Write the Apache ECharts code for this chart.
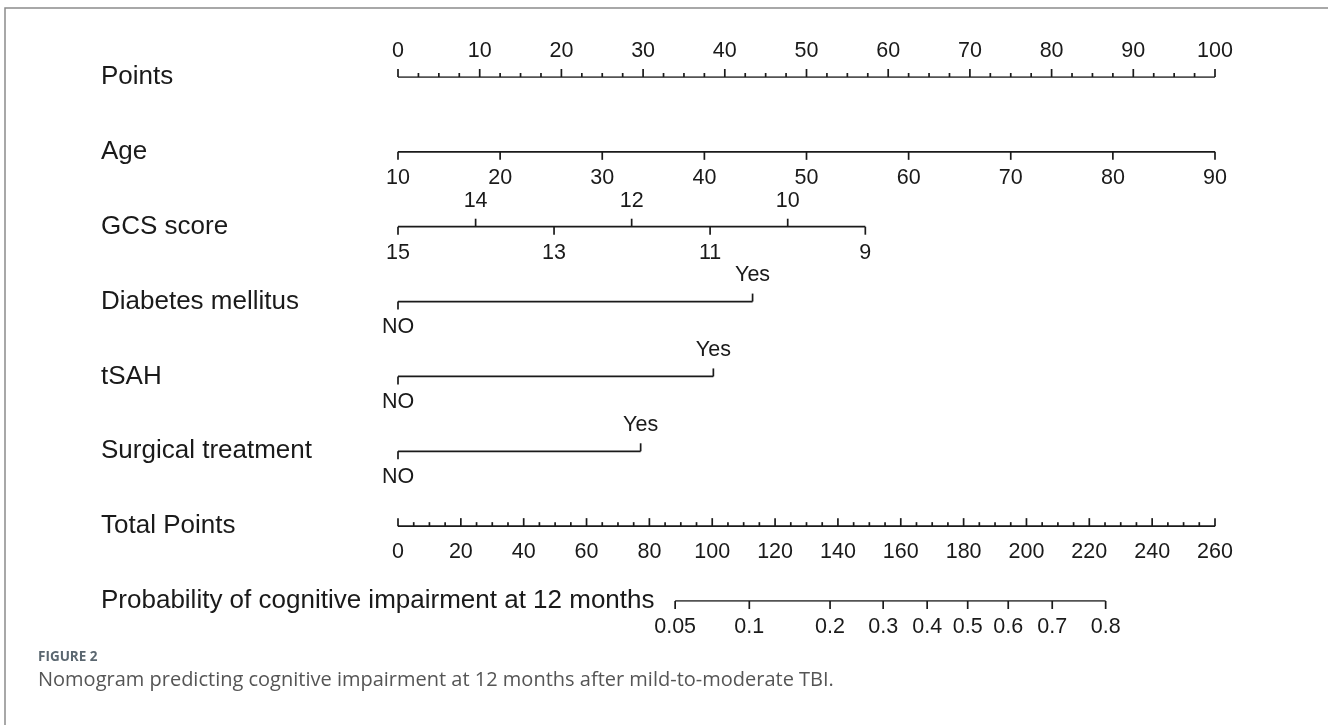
<!DOCTYPE html>
<html>
<head>
<meta charset="utf-8">
<title>Nomogram</title>
<script src="https://cdn.jsdelivr.net/npm/echarts@6/dist/echarts.min.js"></script>
<style>
  html, body { margin: 0; padding: 0; background: #ffffff; }
  #chart { width: 1328px; height: 725px; }
</style>
</head>
<body>
<div id="chart"></div>
<script>
// Row titles, top to bottom
const rowNames = [
  'Points',
  'Age',
  'GCS score',
  'Diabetes mellitus',
  'tSAH',
  'Surgical treatment',
  'Total Points',
  'Probability of cognitive impairment at 12 months'
];

// Points scale (0-100)
const pointsTicks = [0, 10, 20, 30, 40, 50, 60, 70, 80, 90, 100];

// Age: predictor values and their points
const ageTicks = [10, 20, 30, 40, 50, 60, 70, 80, 90];
const agePoints = [0, 12.5, 25, 37.5, 50, 62.5, 75, 87.5, 100];

// GCS score: predictor values and their points
const gcsTicks = [15, 14, 13, 12, 11, 10, 9];
const gcsPoints = [0, 9.5, 19.1, 28.6, 38.2, 47.7, 57.2];

// Binary predictors
const binaryLevels = ['NO', 'Yes'];
const diabetesPoints = [0, 43.4];
const tsahPoints = [0, 38.6];
const surgeryPoints = [0, 29.7];

// Total points scale
const totalTicks = [0, 20, 40, 60, 80, 100, 120, 140, 160, 180, 200, 220, 240, 260];
const totalMax = 260;

// Predicted probability and the total points where each is reached
const probTicks = ['0.05', '0.1', '0.2', '0.3', '0.4', '0.5', '0.6', '0.7', '0.8'];
const probTotalPoints = [88.2, 111.8, 137.5, 154.4, 168.4, 181.3, 194.2, 208.2, 225.2];

const INK = '#1a1a1a';
const FONT = '"Liberation Sans", Arial, Helvetica, sans-serif';
const LABEL_GAP = 26;
const TICK_FONT = 21.5;
const ROW_FONT = 26;

// Build tick specs for each row (x in points units)
function tk(x, label, tick, side, len) {
  return { x: x, label: label, tick: tick, side: side, len: len };
}

const rows = [];

// Points: major every 10, minor every 2.5, ticks and labels above
(function () {
  const t = [];
  pointsTicks.forEach(v => t.push(tk(v, String(v), 'up', 'up', 8)));
  for (let v = 2.5; v < 100; v += 2.5) {
    if (v % 10 !== 0) t.push(tk(v, '', 'up', 'up', 4));
  }
  rows.push({ row: 0, min: 0, max: 100, ticks: t });
})();

// Age
rows.push({
  row: 1, min: agePoints[0], max: agePoints[agePoints.length - 1],
  ticks: ageTicks.map((v, i) => tk(agePoints[i], String(v), 'down', 'down', 8))
});

// GCS: alternating sides
rows.push({
  row: 2, min: gcsPoints[0], max: gcsPoints[gcsPoints.length - 1],
  ticks: gcsTicks.map((v, i) => {
    const s = i % 2 === 0 ? 'down' : 'up';
    return tk(gcsPoints[i], String(v), s, s, 8);
  })
});

// Binary predictors: NO below, Yes above
[diabetesPoints, tsahPoints, surgeryPoints].forEach((pts, k) => {
  rows.push({
    row: 3 + k, min: pts[0], max: pts[1],
    ticks: binaryLevels.map((lv, i) => {
      const s = i === 0 ? 'down' : 'up';
      return tk(pts[i], lv, s, s, 8);
    })
  });
});

// Total points: ticks up, labels below, minor every 5
(function () {
  const t = [];
  const toPts = v => v * 100 / totalMax;
  totalTicks.forEach(v => t.push(tk(toPts(v), String(v), 'up', 'down', 8)));
  for (let v = 5; v < totalMax; v += 5) {
    if (v % 20 !== 0) t.push(tk(toPts(v), '', 'up', 'down', 4));
  }
  rows.push({ row: 6, min: 0, max: 100, ticks: t });
})();

// Probability
(function () {
  const toPts = v => v * 100 / totalMax;
  const t = probTicks.map((lab, i) => tk(toPts(probTotalPoints[i]), lab, 'down', 'down', 8));
  rows.push({ row: 7, min: t[0].x, max: t[t.length - 1].x, ticks: t });
})();

const series = [];
rows.forEach(r => {
  // baseline of the row
  series.push({
    type: 'line',
    data: [[r.min, r.row], [r.max, r.row]],
    symbol: 'none',
    silent: true,
    animation: false,
    lineStyle: { color: INK, width: 1.7 }
  });
  // ticks and their labels
  series.push({
    type: 'custom',
    coordinateSystem: 'cartesian2d',
    clip: false,
    silent: true,
    animation: false,
    data: r.ticks.map(t => [t.x, r.row]),
    renderItem: function (params, api) {
      const t = r.ticks[params.dataIndex];
      const p = api.coord([api.value(0), api.value(1)]);
      const dy = t.tick === 'up' ? -t.len : t.len;
      const children = [{
        type: 'line',
        shape: { x1: p[0], y1: p[1], x2: p[0], y2: p[1] + dy },
        style: { stroke: INK, lineWidth: 1.7 }
      }];
      if (t.label) {
        children.push({
          type: 'text',
          x: p[0],
          y: p[1] + (t.side === 'up' ? -LABEL_GAP : LABEL_GAP),
          style: {
            text: t.label,
            textAlign: 'center',
            textVerticalAlign: 'middle',
            fontSize: TICK_FONT,
            fontFamily: FONT,
            fill: INK
          }
        });
      }
      return { type: 'group', children: children };
    }
  });
});

const chart = echarts.init(document.getElementById('chart'), null, { renderer: 'canvas' });
chart.setOption({
  backgroundColor: '#ffffff',
  animation: false,
  grid: { left: 398, right: 113, top: 77, bottom: 124, containLabel: false },
  xAxis: { type: 'value', min: 0, max: 100, show: false },
  yAxis: {
    type: 'category',
    data: rowNames,
    inverse: true,
    boundaryGap: false,
    axisLine: { show: false },
    axisTick: { show: false },
    splitLine: { show: false },
    axisLabel: {
      interval: 0,
      margin: 297,
      align: 'left',
      fontSize: ROW_FONT,
      fontFamily: FONT,
      color: INK
    }
  },
  series: series,
  graphic: [
    {
      type: 'rect',
      shape: { x: 5, y: 8, width: 1340, height: 740 },
      style: { fill: 'none', stroke: '#8c8c8c', lineWidth: 1.5 },
      silent: true
    },
    {
      type: 'text',
      left: 38,
      top: 650,
      style: {
        text: 'FIGURE 2',
        fontSize: 13.5,
        fontWeight: 'bold',
        fontFamily: '"Open Sans", sans-serif',
        fill: '#5b6770'
      }
    },
    {
      type: 'text',
      left: 38,
      top: 670,
      style: {
        text: 'Nomogram predicting cognitive impairment at 12 months after mild-to-moderate TBI.',
        fontSize: 20,
        fontFamily: '"Open Sans", sans-serif',
        fill: '#555555'
      }
    }
  ]
});
</script>
</body>
</html>
